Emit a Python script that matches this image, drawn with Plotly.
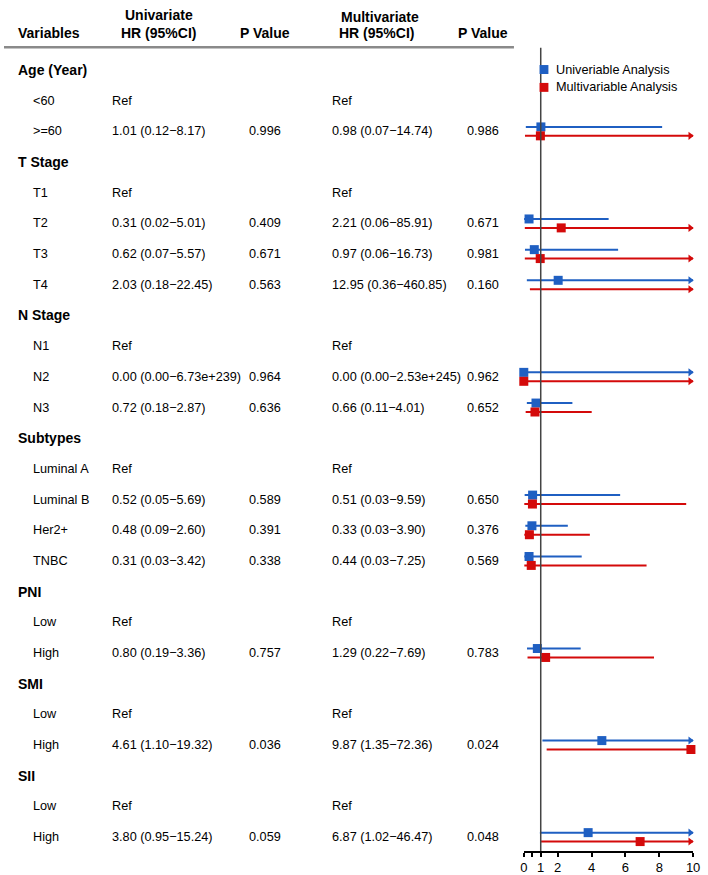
import plotly.graph_objects as go

M = "\u2212"
# ---------------- data ----------------
row_labels = ["Age (Year)", "<60", ">=60", "T Stage", "T1", "T2", "T3", "T4",
              "N Stage", "N1", "N2", "N3", "Subtypes", "Luminal A", "Luminal B",
              "Her2+", "TNBC", "PNI", "Low", "High", "SMI", "Low", "High",
              "SII", "Low", "High"]
is_group = [True, False, False, True, False, False, False, False,
            True, False, False, False, True, False, False,
            False, False, True, False, False, True, False, False,
            True, False, False]

uni_text = ["", "Ref", f"1.01 (0.12{M}8.17)", "", "Ref", f"0.31 (0.02{M}5.01)",
            f"0.62 (0.07{M}5.57)", f"2.03 (0.18{M}22.45)", "", "Ref",
            f"0.00 (0.00{M}6.73e+239)", f"0.72 (0.18{M}2.87)", "", "Ref",
            f"0.52 (0.05{M}5.69)", f"0.48 (0.09{M}2.60)", f"0.31 (0.03{M}3.42)",
            "", "Ref", f"0.80 (0.19{M}3.36)", "", "Ref", f"4.61 (1.10{M}19.32)",
            "", "Ref", f"3.80 (0.95{M}15.24)"]
uni_p = ["", "", "0.996", "", "", "0.409", "0.671", "0.563", "", "", "0.964",
         "0.636", "", "", "0.589", "0.391", "0.338", "", "", "0.757", "", "",
         "0.036", "", "", "0.059"]
multi_text = ["", "Ref", f"0.98 (0.07{M}14.74)", "", "Ref", f"2.21 (0.06{M}85.91)",
              f"0.97 (0.06{M}16.73)", f"12.95 (0.36{M}460.85)", "", "Ref",
              f"0.00 (0.00{M}2.53e+245)", f"0.66 (0.11{M}4.01)", "", "Ref",
              f"0.51 (0.03{M}9.59)", f"0.33 (0.03{M}3.90)", f"0.44 (0.03{M}7.25)",
              "", "Ref", f"1.29 (0.22{M}7.69)", "", "Ref", f"9.87 (1.35{M}72.36)",
              "", "Ref", f"6.87 (1.02{M}46.47)"]
multi_p = ["", "", "0.986", "", "", "0.671", "0.981", "0.160", "", "", "0.962",
           "0.652", "", "", "0.650", "0.376", "0.569", "", "", "0.783", "", "",
           "0.024", "", "", "0.048"]

N = None
uni_hr = [N, N, 1.01, N, N, 0.31, 0.62, 2.03, N, N, 0.00, 0.72, N, N, 0.52, 0.48,
          0.31, N, N, 0.80, N, N, 4.61, N, N, 3.80]
uni_lo = [N, N, 0.12, N, N, 0.02, 0.07, 0.18, N, N, 0.00, 0.18, N, N, 0.05, 0.09,
          0.03, N, N, 0.19, N, N, 1.10, N, N, 0.95]
uni_hi = [N, N, 8.17, N, N, 5.01, 5.57, 22.45, N, N, 6.73e239, 2.87, N, N, 5.69,
          2.60, 3.42, N, N, 3.36, N, N, 19.32, N, N, 15.24]
multi_hr = [N, N, 0.98, N, N, 2.21, 0.97, 12.95, N, N, 0.00, 0.66, N, N, 0.51, 0.33,
            0.44, N, N, 1.29, N, N, 9.87, N, N, 6.87]
multi_lo = [N, N, 0.07, N, N, 0.06, 0.06, 0.36, N, N, 0.00, 0.11, N, N, 0.03, 0.03,
            0.03, N, N, 0.22, N, N, 1.35, N, N, 1.02]
multi_hi = [N, N, 14.74, N, N, 85.91, 16.73, 460.85, N, N, 2.53e245, 4.01, N, N,
            9.59, 3.90, 7.25, N, N, 7.69, N, N, 72.36, N, N, 46.47]

x_ticks = [0, 0.5, 1, 2, 4, 6, 8, 10]
x_tick_labels = ["0", "", "1", "2", "4", "6", "8", "10"]
series_names = ["Univeriable Analysis", "Multivariable Analysis"]
header_top = ["Univariate", "Multivariate"]
header_cols = ["Variables", "HR (95%CI)", "P Value", "HR (95%CI)", "P Value"]

# ---------------- style ----------------
W, H = 708, 875
BOT = 18
PLOT_H = H - BOT
BLUE = "#1F5FC2"
RED = "#D40A0A"
FONT = "Liberation Sans, Arial, sans-serif"
BODY = 12.7
ROW0, PITCH = 70.5, 30.9
XMIN, XMAX = 0, 10
OFF = 4.5 / PITCH


def py2paper(py):
    return 1 - py / PLOT_H


fig = go.Figure()


def add_series(hr, lo, hi, color, name, sign):
    lx, ly, px, pyy, ax, ay = [], [], [], [], [], []
    for k in range(len(row_labels)):
        if hr[k] is None:
            continue
        yk = k + sign * OFF
        a = max(lo[k], XMIN)
        b = min(hi[k], XMAX)
        lx += [a, b, None]
        ly += [yk, yk, None]
        if hr[k] <= XMAX:
            px.append(hr[k])
            pyy.append(yk)
        if hi[k] > XMAX:
            ax.append(XMAX - 0.17)
            ay.append(yk)
    fig.add_trace(go.Scatter(x=lx, y=ly, mode="lines", line=dict(color=color, width=2),
                             showlegend=False, cliponaxis=False, hoverinfo="skip"))
    fig.add_trace(go.Scatter(x=ax, y=ay, mode="markers",
                             marker=dict(symbol="triangle-right", size=7, color=color),
                             showlegend=False, cliponaxis=False, hoverinfo="skip"))
    fig.add_trace(go.Scatter(x=px, y=pyy, mode="markers", name=name,
                             marker=dict(symbol="square", size=9, color=color),
                             showlegend=False, cliponaxis=False))


add_series(uni_hr, uni_lo, uni_hi, BLUE, series_names[0], -1)
add_series(multi_hr, multi_lo, multi_hi, RED, series_names[1], +1)

ann = []
# headers
ann.append(dict(x=157 / W, y=py2paper(15), text="<b>%s</b>" % header_top[0], xanchor="center"))
ann.append(dict(x=382 / W, y=py2paper(17), text="<b>%s</b>" % header_top[1], xanchor="center"))
hx = [(12, "left"), (157, "center"), (265, "center"), (378, "center"), (487, "center")]
for (x, anc), t in zip(hx, header_cols):
    ann.append(dict(x=x / W, y=py2paper(33), text="<b>%s</b>" % t, xanchor=anc))
for a in ann:
    a.update(xref="paper", yref="paper", yanchor="middle", showarrow=False,
             font=dict(family=FONT, size=14, color="black"))

rows_ann = []
for k, lab in enumerate(row_labels):
    if is_group[k]:
        rows_ann.append(dict(x=12 / W, y=k, text="<b>%s</b>" % lab, xanchor="left",
                             font=dict(family=FONT, size=14, color="black")))
        continue
    rows_ann.append(dict(x=27 / W, y=k, text=lab, xanchor="left"))
    rows_ann.append(dict(x=108 / W, y=k, text=uni_text[k], xanchor="left"))
    if uni_p[k]:
        rows_ann.append(dict(x=265 / W, y=k, text=uni_p[k], xanchor="center"))
    rows_ann.append(dict(x=331 / W, y=k, text=multi_text[k], xanchor="left"))
    if multi_p[k]:
        rows_ann.append(dict(x=487 / W, y=k, text=multi_p[k], xanchor="center"))
for a in rows_ann:
    a.setdefault("font", dict(family=FONT, size=BODY, color="black"))
    a.update(xref="paper", yref="y", yanchor="middle", showarrow=False)

# legend (manual)
leg_y = [70, 88]
for c, name, yy in zip([BLUE, RED], series_names, leg_y):
    ann.append(dict(x=559 / W, y=py2paper(yy), text=name, xanchor="left", yanchor="middle",
                    xref="paper", yref="paper", showarrow=False,
                    font=dict(family=FONT, size=BODY, color="black")))

shapes = [
    dict(type="line", xref="paper", yref="paper", x0=0, x1=518 / W,
         y0=py2paper(47.5), y1=py2paper(47.5), line=dict(color="#8a8a8a", width=2.5)),
    dict(type="line", xref="x", yref="paper", x0=1, x1=1, y0=0, y1=py2paper(48),
         line=dict(color="#444444", width=1.5)),
]
for c, yy in zip([BLUE, RED], leg_y):
    shapes.append(dict(type="rect", xref="paper", yref="paper",
                       x0=544 / W, x1=553 / W, y0=py2paper(yy - 4.5), y1=py2paper(yy + 4.5),
                       fillcolor=c, line=dict(width=0)))

fig.update_layout(
    width=W, height=H,
    margin=dict(l=0, r=0, t=0, b=BOT, pad=0),
    paper_bgcolor="white", plot_bgcolor="white",
    showlegend=False,
    annotations=ann + rows_ann,
    shapes=shapes,
    xaxis=dict(domain=[528 / W, 700 / W], range=[XMIN, XMAX], tickvals=x_ticks,
               ticktext=x_tick_labels, ticks="outside", ticklen=4, tickwidth=1.5,
               tickcolor="black", showline=True, linecolor="black", linewidth=1.5,
               showgrid=False, zeroline=False,
               tickfont=dict(family=FONT, size=13, color="black")),
    yaxis=dict(range=[(PLOT_H - ROW0) / PITCH, -ROW0 / PITCH], visible=False,
               showgrid=False, zeroline=False),
)

fig.write_html("out.html", config={"displayModeBar": False},
               post_script="document.body.style.margin='0';document.body.style.overflow='hidden';")
